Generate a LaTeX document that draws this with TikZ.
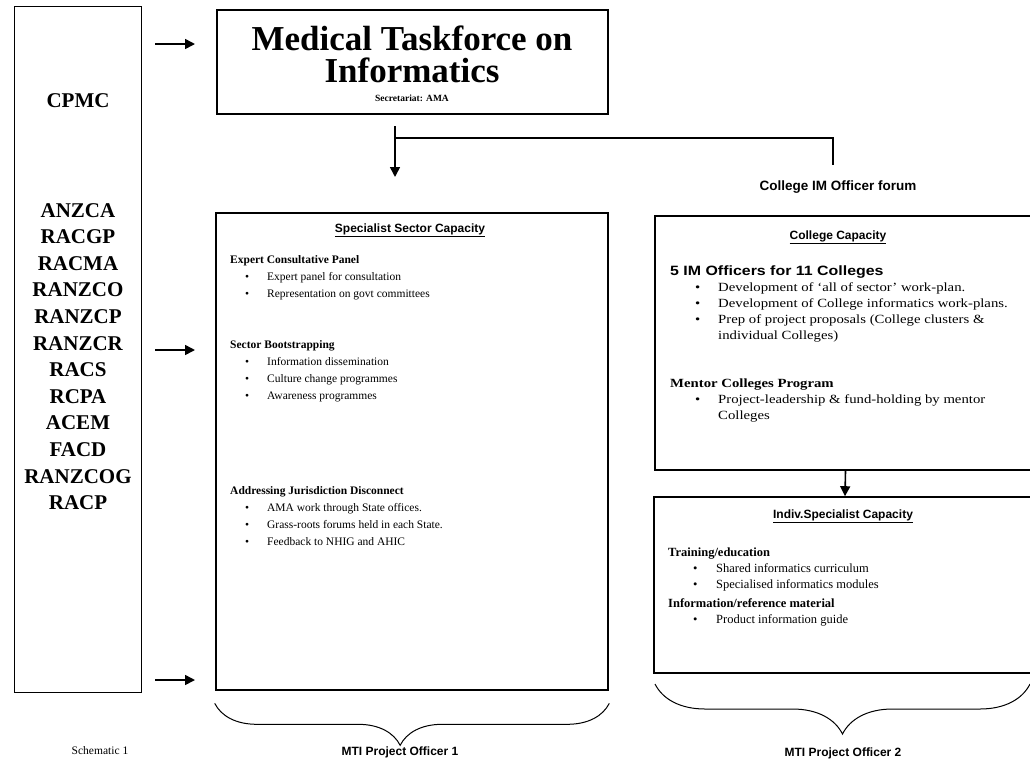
\documentclass[tikz,border=0pt]{standalone}
\usepackage{fontspec}
\setmainfont{Liberation Serif}
\setsansfont{Liberation Sans}
\newfontfamily\wideserif[FakeStretch=1.18]{Liberation Serif}
\newfontfamily\widesans[FakeStretch=1.18]{Liberation Sans}
\usetikzlibrary{arrows.meta,positioning,decorations.pathreplacing,calc}

\newcommand{\bul}[1]{\hspace*{15pt}\makebox[22pt][l]{\textbullet}#1}
\newcommand{\cbul}[1]{\hspace*{25pt}\makebox[23pt][l]{\textbullet}#1}
\newcommand{\cbulw}[1]{\hspace*{48pt}#1}

\begin{document}
\begin{tikzpicture}[x=1pt, y=-1pt,
  thinbox/.style={draw, line width=0.9pt, inner sep=0pt},
  heavybox/.style={draw, line width=2.6pt, inner sep=0pt},
  medbox/.style={draw, line width=1.6pt, inner sep=0pt},
  colname/.style={anchor=base, font=\bfseries\fontsize{21}{24}\selectfont},
  tfname/.style={anchor=base, font=\bfseries\fontsize{35}{38}\selectfont},
  boxtitle/.style={font=\sffamily\bfseries\fontsize{12}{14}\selectfont},
  sect/.style={anchor=base west, align=left, inner sep=0pt, font=\fontsize{11.5}{17}\selectfont},
  csect/.style={sect, font=\fontsize{12.5}{16}\selectfont},
  wsect/.style={sect, font=\wideserif\fontsize{12.5}{16}\selectfont},
  arrow/.style={-{Triangle[length=10pt, width=10pt]}, line width=1.6pt},
  link/.style={line width=1.2pt},
  bracedown/.style={decorate, decoration={brace, mirror, amplitude=#1}, line width=1pt},
  officer/.style={font=\sffamily\bfseries\fontsize{12}{14}\selectfont}
]
\useasboundingbox (0,0) rectangle (1030,761);

% colleges column
\node[thinbox, minimum width=127pt, minimum height=686pt] (cols) at (77.5,349) {};
\node[colname] (cpmc) at (78,107) {CPMC};
\foreach \c [count=\i from 0] in {ANZCA,RACGP,RACMA,RANZCO,RANZCP,RANZCR,RACS,RCPA,ACEM,FACD,RANZCOG,RACP}
  \node[colname] (m\i) at (78,217+26.6*\i) {\c};
\foreach \y [count=\k] in {44,350,680} {
  \coordinate (from\k) at (155,\y);
  \coordinate (to\k) at (195,\y);
  \draw[arrow] (from\k) -- (to\k);
}

% taskforce
\node[heavybox, minimum width=391pt, minimum height=104pt] (tf) at (412.5,62) {};
\node[tfname] (tf1) at (412,50) {Medical Taskforce on};
\node[tfname] (tf2) at (412,82) {Informatics};
\node[anchor=base, font=\bfseries\fontsize{9.5}{11}\selectfont] (tfsec) at (412,101) {Secretariat: AMA};

\coordinate (drop) at (395,126);
\coordinate (split) at (395,138);
\coordinate (droptip) at (395,177);
\coordinate (forumtop) at (833,165);
\draw[arrow] (drop) -- (droptip);
\draw[link] (split) -| (forumtop);
\node[font=\sffamily\bfseries\fontsize{13.5}{16}\selectfont] (forum) at (838,187) {College IM Officer forum};

% specialist sector (base = last line)
\node[heavybox, minimum width=392pt, minimum height=477pt] (spec) at (412,451.5) {};
\node[boxtitle] (spectitle) at (410,230) {\underline{Specialist Sector Capacity}};
\node[sect] (panel) at (230,297) {\textbf{Expert Consultative Panel}\\\bul{Expert panel for consultation}\\\bul{Representation on govt committees}};
\node[sect] (boot) at (230,399) {\textbf{Sector Bootstrapping}\\\bul{Information dissemination}\\\bul{Culture change programmes}\\\bul{Awareness programmes}};
\node[sect] (juris) at (230,545) {\textbf{Addressing Jurisdiction Disconnect}\\\bul{AMA work through State offices.}\\\bul{Grass-roots forums held in each State.}\\\bul{Feedback to NHIG and AHIC}};

% college capacity
\node[medbox, minimum width=381pt, minimum height=254pt] (coll) at (845.5,343) {};
\node[boxtitle] (colltitle) at (838,237) {\underline{College Capacity}};
\node[wsect] (imo) at (670,339) {{\widesans\bfseries\fontsize{13.5}{16}\selectfont 5 IM Officers for 11 Colleges}\\\cbul{Development of ‘all of sector’ work-plan.}\\\cbul{Development of College informatics work-plans.}\\\cbul{Prep of project proposals (College clusters \&}\\\cbulw{individual Colleges)}};
\node[wsect] (mentor) at (670,419) {\textbf{Mentor Colleges Program}\\\cbul{Project-leadership \& fund-holding by mentor}\\\cbulw{Colleges}};

% individual specialist
\node[medbox, minimum width=382pt, minimum height=176pt] (indiv) at (845,585) {};
\node[boxtitle] (indivtitle) at (843,516) {\underline{Indiv.Specialist Capacity}};
\node[csect] (train) at (668,588) {\textbf{Training/education}\\\cbul{Shared informatics curriculum}\\\cbul{Specialised informatics modules}};
\node[csect] (info) at (668,623) {\textbf{Information/reference material}\\\cbul{Product information guide}};
\draw[arrow] (coll.south) -- (indiv.north);

% project officers
\draw[bracedown=42pt, decoration={aspect=0.47}] ([yshift=-12pt]spec.south west) -- ([yshift=-12pt]spec.south east);
\node[officer] (po1) at (400,752) {MTI Project Officer 1};
\coordinate (b2l) at (655,684);
\coordinate (b2r) at (1030,684);
\draw[bracedown=50pt, decoration={aspect=0.5}] (b2l) -- (b2r);
\node[officer] (po2) at (843,753) {MTI Project Officer 2};
\node[font=\fontsize{11.5}{13}\selectfont] (schem) at (100,751) {Schematic 1};
\end{tikzpicture}
\end{document}
